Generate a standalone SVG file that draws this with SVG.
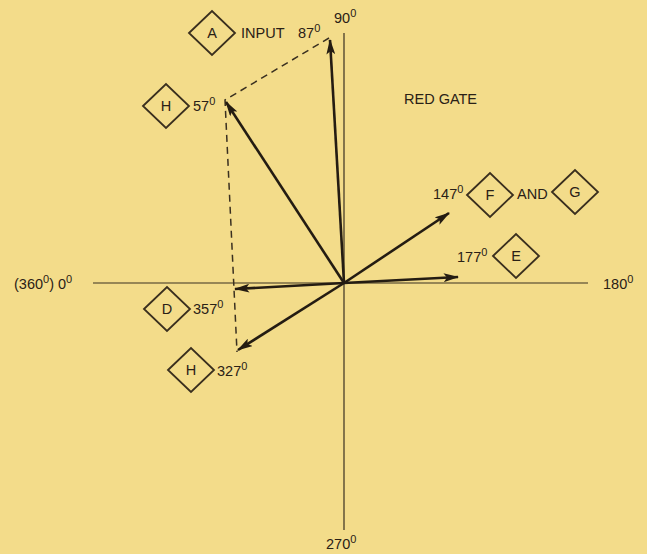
<svg xmlns="http://www.w3.org/2000/svg" width="647" height="554" viewBox="0 0 647 554">
<defs>
<style>
.t{font-family:"Liberation Sans",Arial,sans-serif;font-size:14.5px;fill:#2a2116}
.s{font-size:11px}
.d{fill:none;stroke:#3a2f1e;stroke-width:1.8}
.ax{stroke:#3a3020;stroke-width:1.2;fill:none}
.v{stroke:#241c12;stroke-width:2.6;fill:none;marker-end:url(#ah)}
.dash{stroke:#3a3020;stroke-width:1.5;fill:none;stroke-dasharray:7,5}
</style>
<marker id="ah" viewBox="0 0 14 8" refX="13" refY="4" markerWidth="6" markerHeight="3.4" orient="auto" markerUnits="strokeWidth">
<path d="M0,0 L14,4 L0,8 L3,4 Z" fill="#241c12"/>
</marker>
</defs>
<rect width="647" height="554" fill="#f3dc8a"/>
<g id="connectors">
<line class="ax" x1="93" y1="283" x2="588" y2="283"/>
<line class="ax" x1="344" y1="33" x2="344" y2="530"/>
<polyline class="dash" points="329,38 225,100 237,352"/>
<line class="v" x1="344" y1="283" x2="330" y2="40"/>
<line class="v" x1="344" y1="283" x2="226" y2="102"/>
<line class="v" x1="344" y1="283" x2="449" y2="213"/>
<line class="v" x1="344" y1="283" x2="458" y2="277"/>
<line class="v" x1="344" y1="283" x2="235" y2="289"/>
<line class="v" x1="344" y1="283" x2="238" y2="350"/>
</g>
<g id="node-A"><path class="d" d="M189,33 L212,11 L235,33 L212,55 Z"/><text class="t" x="212" y="38" text-anchor="middle">A</text></g>
<g id="node-H1"><path class="d" d="M143,106 L166,84 L189,106 L166,128 Z"/><text class="t" x="166" y="111" text-anchor="middle">H</text></g>
<g id="node-F"><path class="d" d="M467,195 L490,173 L513,195 L490,217 Z"/><text class="t" x="490" y="200" text-anchor="middle">F</text></g>
<g id="node-G"><path class="d" d="M552,192 L575,170 L598,192 L575,214 Z"/><text class="t" x="575" y="197" text-anchor="middle">G</text></g>
<g id="node-E"><path class="d" d="M493,256 L516,234 L539,256 L516,278 Z"/><text class="t" x="516" y="261" text-anchor="middle">E</text></g>
<g id="node-D"><path class="d" d="M144,309 L167,287 L190,309 L167,331 Z"/><text class="t" x="167" y="314" text-anchor="middle">D</text></g>
<g id="node-H2"><path class="d" d="M168,370 L191,348 L214,370 L191,392 Z"/><text class="t" x="191" y="375" text-anchor="middle">H</text></g>
<g id="labels">
<text class="t" x="241" y="38">INPUT</text>
<text class="t" x="298" y="38">87<tspan class="s" dy="-6">0</tspan></text>
<text class="t" x="334" y="23">90<tspan class="s" dy="-6">0</tspan></text>
<text class="t" x="193" y="111">57<tspan class="s" dy="-6">0</tspan></text>
<text class="t" x="404" y="104">RED GATE</text>
<text class="t" x="433" y="199">147<tspan class="s" dy="-6">0</tspan></text>
<text class="t" x="517" y="199">AND</text>
<text class="t" x="457" y="262">177<tspan class="s" dy="-6">0</tspan></text>
<text class="t" x="603" y="289">180<tspan class="s" dy="-6">0</tspan></text>
<text class="t" x="14" y="289">(360<tspan class="s" dy="-6">0</tspan><tspan dy="6">)  0</tspan><tspan class="s" dy="-6">0</tspan></text>
<text class="t" x="193" y="314">357<tspan class="s" dy="-6">0</tspan></text>
<text class="t" x="217" y="376">327<tspan class="s" dy="-6">0</tspan></text>
<text class="t" x="326" y="549">270<tspan class="s" dy="-6">0</tspan></text>
</g>
</svg>
